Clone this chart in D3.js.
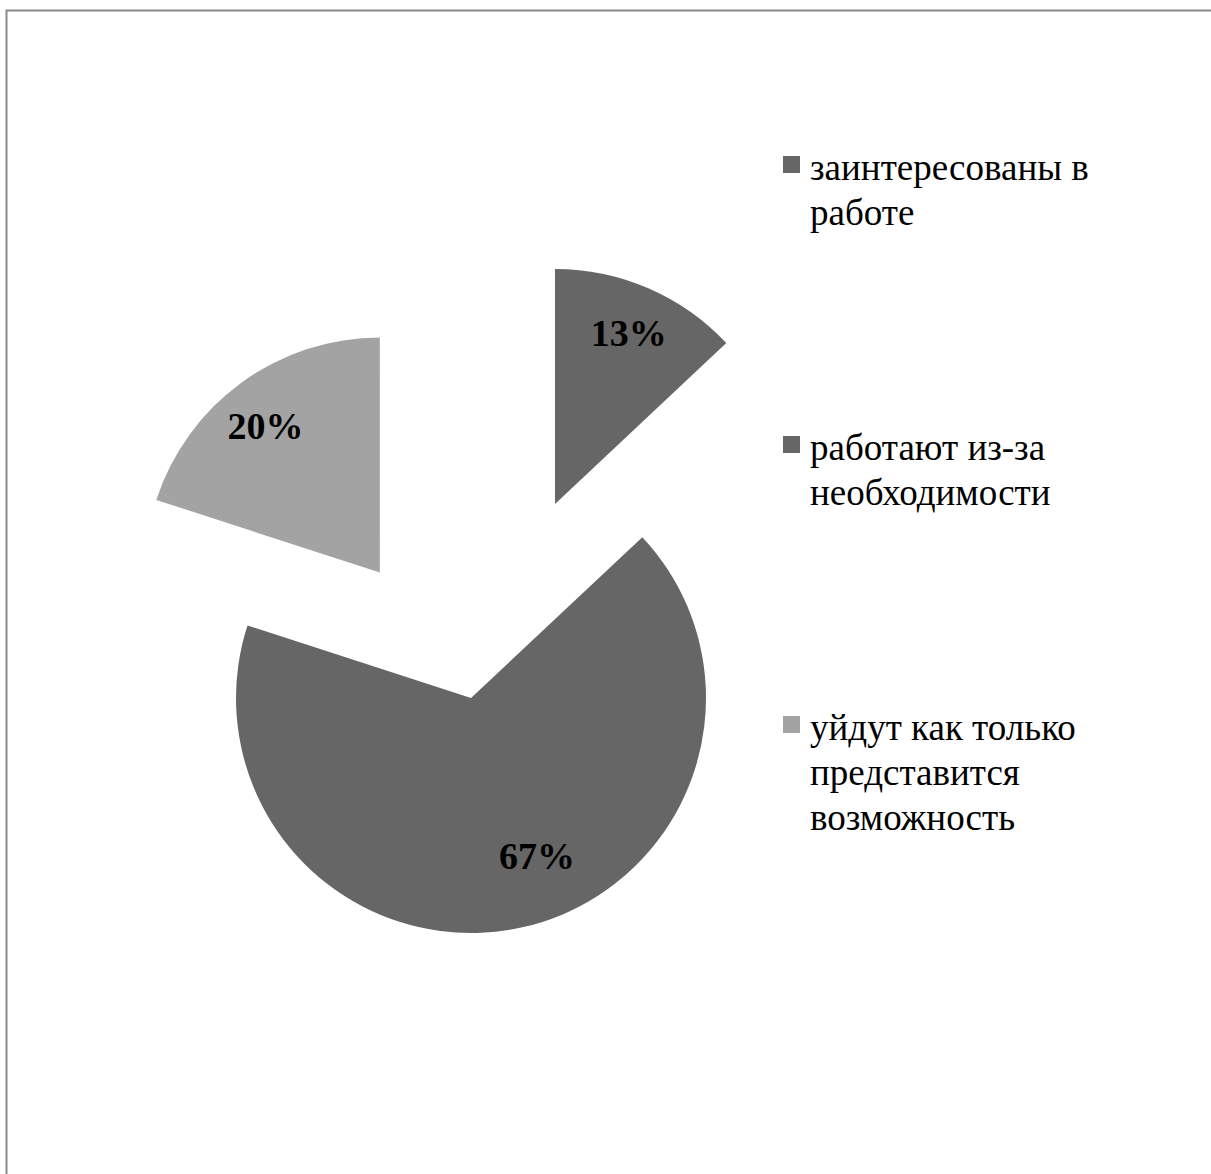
<!DOCTYPE html>
<html>
<head>
<meta charset="utf-8">
<script src="https://cdn.jsdelivr.net/npm/d3@7/dist/d3.min.js"></script>
<style>
  html, body { margin: 0; padding: 0; background: #fff; }
  svg { display: block; }
</style>
</head>
<body>
<script>
// Survey answers: attitude of staff towards their work
const categories = [
  "заинтересованы в работе",
  "работают из-за необходимости",
  "уйдут как только представится возможность"
];
const values = [13, 67, 20];
const valueLabels = ["13%", "67%", "20%"];
const legendLines = [
  ["заинтересованы в", "работе"],
  ["работают из-за", "необходимости"],
  ["уйдут как только", "представится", "возможность"]
];

// Styling
const sliceColors = ["#666666", "#666666", "#a3a3a3"];
const explodeFrac = [0.9, 0, 0.66];         // slice pull-out, share of radius
const labelRadiusFrac = [0.79, 0.73, 0.79]; // label distance from slice tip
const labelAngleShift = [0, -10, -2];       // degrees

const W = 1211, H = 1174;
const cx = 471, cy = 698, R = 235;

const svg = d3.select("body").append("svg")
  .attr("width", W).attr("height", H);

// Chart area frame
svg.append("rect")
  .attr("x", 6.5).attr("y", 10.5)
  .attr("width", W + 20).attr("height", H + 20)
  .attr("fill", "none")
  .attr("stroke", "#8a8a8a")
  .attr("stroke-width", 2);

const pie = d3.pie().sort(null).value(d => d);
const arcs = pie(values);
const arc = d3.arc().innerRadius(0).outerRadius(R);

const g = svg.append("g").attr("transform", `translate(${cx},${cy})`);

arcs.forEach((a, i) => {
  const mid = (a.startAngle + a.endAngle) / 2;
  const d = explodeFrac[i] * R;
  const ox = Math.sin(mid) * d, oy = -Math.cos(mid) * d;
  const sg = g.append("g").attr("transform", `translate(${ox},${oy})`);
  sg.append("path")
    .attr("d", arc(a))
    .attr("fill", sliceColors[i]);

  const la = mid + labelAngleShift[i] * Math.PI / 180;
  const lr = labelRadiusFrac[i] * R;
  const fs = 38;
  sg.append("text")
    .attr("x", Math.sin(la) * lr)
    .attr("y", -Math.cos(la) * lr + fs * 0.33)
    .attr("text-anchor", "middle")
    .attr("font-family", "'Liberation Serif', 'Times New Roman', serif")
    .attr("font-weight", "bold")
    .attr("font-size", fs)
    .attr("fill", "#000")
    .text(valueLabels[i]);
});

// Legend
const legend = svg.append("g").attr("transform", "translate(783,0)");
const entryY = [180, 460, 740];
const lineH = 45;
categories.forEach((c, i) => {
  const lg = legend.append("g");
  lg.append("rect")
    .attr("x", 0).attr("y", entryY[i] - 24)
    .attr("width", 17).attr("height", 17)
    .attr("fill", sliceColors[i]);
  const t = lg.append("text")
    .attr("font-family", "'Liberation Serif', 'Times New Roman', serif")
    .attr("font-size", 37)
    .attr("fill", "#000");
  legendLines[i].forEach((ln, j) => {
    t.append("tspan")
      .attr("x", 27)
      .attr("y", entryY[i] + j * lineH)
      .text(ln);
  });
});
</script>
</body>
</html>
